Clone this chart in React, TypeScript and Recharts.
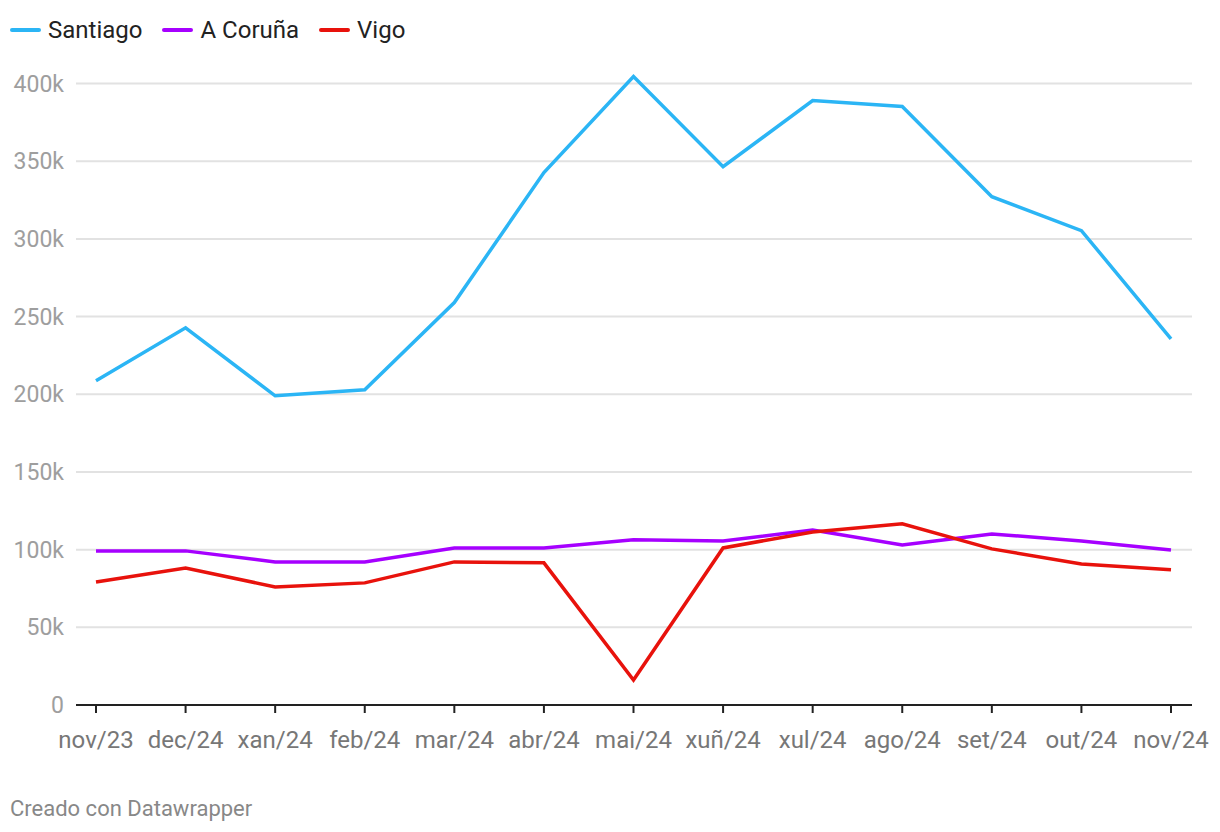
import { LineChart, Line, XAxis, YAxis, CartesianGrid } from 'recharts';

const months = ['nov/23', 'dec/24', 'xan/24', 'feb/24', 'mar/24', 'abr/24', 'mai/24', 'xuñ/24', 'xul/24', 'ago/24', 'set/24', 'out/24', 'nov/24'];
const santiago = [208700, 242800, 199000, 202900, 259000, 342700, 404500, 346500, 389000, 385200, 327200, 305300, 235700];
const coruna = [99200, 99200, 92100, 92100, 101100, 101100, 106300, 105600, 112700, 103000, 110100, 105600, 99800];
const vigo = [79200, 88200, 76000, 78600, 92100, 91500, 16100, 101100, 111400, 116600, 100500, 90800, 87000];
const yTicks = [0, 50000, 100000, 150000, 200000, 250000, 300000, 350000, 400000];
const Y_MAX = 410000;

const series = [
  { key: 'santiago', name: 'Santiago', color: '#2bb5f5' },
  { key: 'coruna', name: 'A Coruña', color: '#a600ff' },
  { key: 'vigo', name: 'Vigo', color: '#e8120c' },
];

const data = months.map((m, i) => ({ month: m, santiago: santiago[i], coruna: coruna[i], vigo: vigo[i] }));

const FONT = 'Roboto, sans-serif';

function fmt(v: number) {
  return v === 0 ? '0' : `${v / 1000}k`;
}

// only draw grid lines at the labelled ticks, not at the domain top
function gridRows({ offset }: any) {
  return yTicks.filter((t) => t > 0).map((t) => offset.top + offset.height * (1 - t / Y_MAX));
}

export default function App() {
  return (
    <div style={{ position: 'fixed', top: 0, left: 0, width: 1220, height: 832, background: '#fff', fontFamily: FONT }}>
      <div style={{ position: 'absolute', top: 16, left: 10, display: 'flex', alignItems: 'center', fontSize: 24, color: '#222' }}>
        {series.map((s) => (
          <div key={s.key} style={{ display: 'flex', alignItems: 'center', marginRight: 20 }}>
            <span style={{ display: 'inline-block', width: 31, height: 4, borderRadius: 2, background: s.color, marginRight: 7 }} />
            <span>{s.name}</span>
          </div>
        ))}
      </div>
      <div style={{ position: 'absolute', top: 0, left: 0 }}>
        <LineChart width={1220} height={760} data={data} margin={{ top: 68, right: 28, left: 0, bottom: 15 }}>
          <CartesianGrid vertical={false} stroke="#e2e2e2" strokeWidth={2} horizontalCoordinatesGenerator={gridRows} />
          <XAxis
            dataKey="month"
            padding={{ left: 20, right: 21 }}
            height={40}
            axisLine={{ stroke: '#222', strokeWidth: 2 }}
            tickLine={{ stroke: '#222', strokeWidth: 2 }}
            tickSize={8}
            tickMargin={18}
            interval={0}
            tick={{ fill: '#777', fontSize: 24, fontFamily: FONT }}
          />
          <YAxis
            domain={[0, Y_MAX]}
            ticks={yTicks}
            tickFormatter={fmt}
            width={76}
            axisLine={false}
            tickLine={false}
            tickSize={0}
            tickMargin={12}
            tick={{ fill: '#9e9e9e', fontSize: 23, fontFamily: FONT }}
          />
          {series.map((s) => (
            <Line
              key={s.key}
              type="linear"
              dataKey={s.key}
              name={s.name}
              stroke={s.color}
              strokeWidth={3.5}
              dot={false}
              isAnimationActive={false}
            />
          ))}
        </LineChart>
      </div>
      <div style={{ position: 'absolute', top: 796, left: 10, fontSize: 22, color: '#888' }}>Creado con Datawrapper</div>
    </div>
  );
}
